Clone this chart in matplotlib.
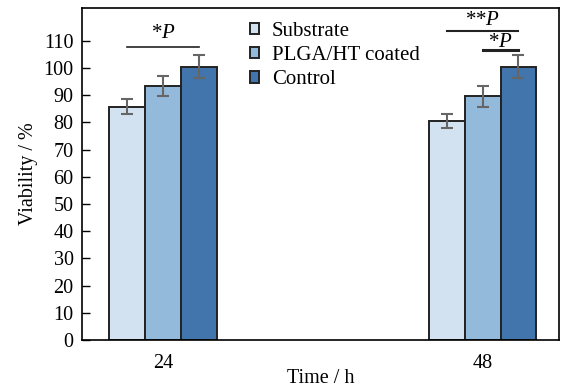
import numpy as np
import matplotlib
matplotlib.use("Agg")
import matplotlib.pyplot as plt
from matplotlib.patches import Patch

plt.rcParams['font.family'] = ['Liberation Serif', 'DejaVu Serif']
plt.rcParams['mathtext.fontset'] = 'custom'
plt.rcParams['mathtext.it'] = 'Liberation Serif:italic'
plt.rcParams['mathtext.rm'] = 'Liberation Serif'

# data
times = ['24', '48']
groups = ['Substrate', 'PLGA/HT coated', 'Control']
substrate = [85.7, 80.6]
substrate_err = [2.7, 2.6]
plga = [93.4, 89.5]
plga_err = [3.7, 3.7]
control = [100.4, 100.4]
control_err = [4.2, 4.3]
colors = ['#d3e2f1', '#93badb', '#4175ab']

fig = plt.figure(figsize=(5.61, 3.90), dpi=100)
ax = fig.add_axes([82 / 561, 1 - 340 / 390, (559 - 82) / 561, (340 - 8) / 390])

x = np.arange(len(times))
w = 0.112
series = [(substrate, substrate_err), (plga, plga_err), (control, control_err)]
for i, (vals, errs) in enumerate(series):
    ax.bar(x + (i - 1) * w, vals, w, color=colors[i], edgecolor='#222222',
           linewidth=1.4, label=groups[i], zorder=2)
    ax.errorbar(x + (i - 1) * w, vals, yerr=errs, fmt='none', ecolor='#666666',
                elinewidth=1.5, capsize=4, capthick=1.5, zorder=3)

# significance markers
def sig(x1, x2, y, text, ty, lw=1.2):
    ax.plot([x1, x2], [y, y], color='#222222', lw=lw, zorder=4)
    ax.text((x1 + x2) / 2, ty, text, ha='center', va='center', fontsize=15)

sig(x[0] - w, x[0] + w, 107.6, r'*$P$', 112.6)
sig(x[1] - w, x[1] + w, 113.4, r'**$P$', 117.4, lw=1.5)
sig(x[1], x[1] + w, 106.4, r'*$P$', 109.4, lw=2.2)

ax.set_xlim(-0.254, 1.239)
ax.set_ylim(0, 122)
ax.set_yticks(np.arange(0, 111, 10))
ax.set_xticks(x)
ax.set_xticklabels(times)
ax.tick_params(axis='y', direction='in', length=6, width=1, labelsize=14.5, pad=6)
ax.tick_params(axis='x', length=0, labelsize=14.5, pad=10)
for s in ax.spines.values():
    s.set_linewidth(1.2)

ax.set_ylabel('Viability / %', fontsize=14.5, labelpad=4)
ax.set_xlabel('Time / h', fontsize=14.5, labelpad=-3)

handles = [Patch(facecolor=c, edgecolor='#222222', linewidth=1.4) for c in colors]
fig.legend(handles, groups, loc='upper left', bbox_to_anchor=(250 / 561, 1 - 22 / 390),
           frameon=False, fontsize=15, handlelength=0.45, handleheight=0.45,
           handletextpad=0.6, labelspacing=0.25, borderpad=0, borderaxespad=0)

fig.savefig('out.png', dpi=100)
